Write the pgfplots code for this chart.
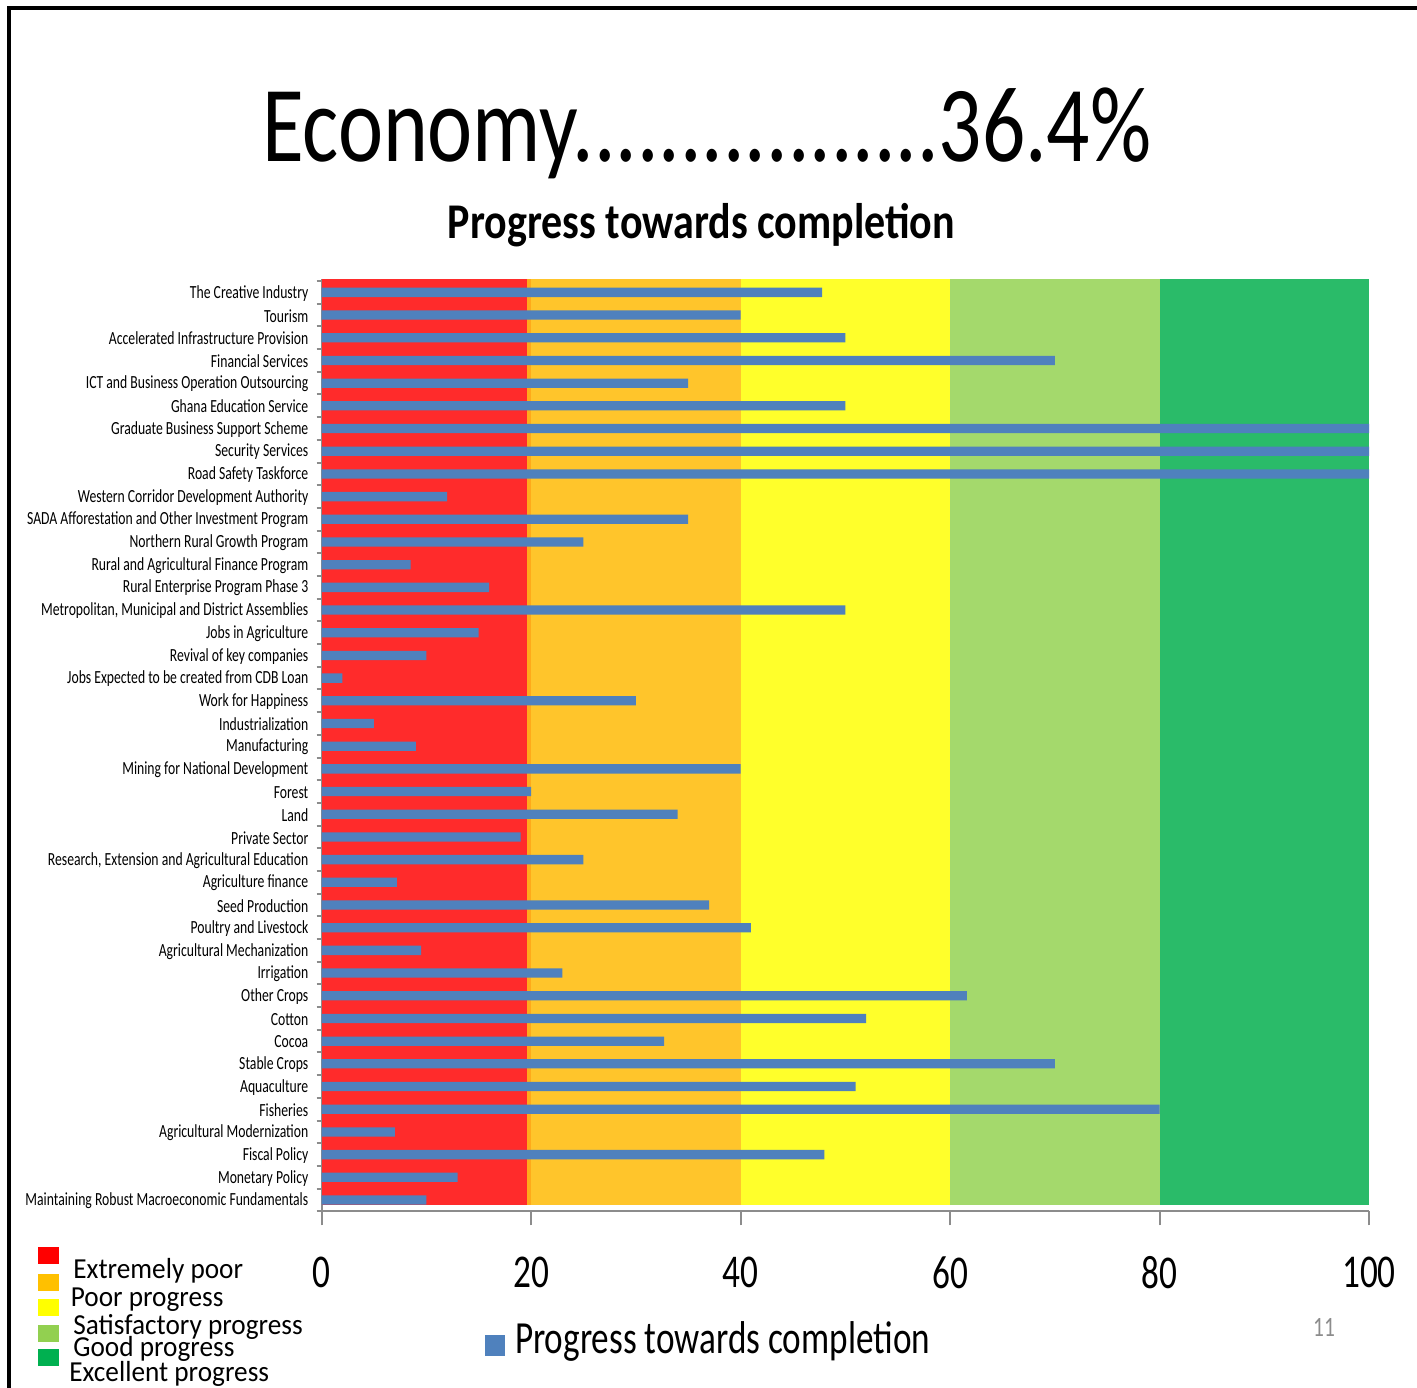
\documentclass[border=0pt]{standalone}
\usepackage{pgfplots}
\pgfplotsset{compat=1.18}
\usepackage{fontspec}
\usepackage{graphicx}
\setmainfont{Carlito}
\newfontfamily\ylab[FakeStretch=0.74]{Carlito}
\newfontfamily\tickf[FakeStretch=0.75]{Carlito}
\newfontfamily\legA[FakeStretch=0.94]{Carlito}
\newfontfamily\legB[FakeStretch=0.765]{Carlito}
\definecolor{barblue}{HTML}{4F81BD}
\definecolor{bred}{HTML}{FF2B2B}
\definecolor{bsliver}{HTML}{FFAA1A}
\definecolor{borange}{HTML}{FFC52B}
\definecolor{byellow}{HTML}{FFFF2B}
\definecolor{blgreen}{HTML}{A4D96C}
\definecolor{bgreen}{HTML}{2ABB69}
\definecolor{lred}{HTML}{FF0000}
\definecolor{lorange}{HTML}{FFC000}
\definecolor{lyellow}{HTML}{FFFF00}
\definecolor{llgreen}{HTML}{92D050}
\definecolor{lgreen}{HTML}{00B050}
\definecolor{axisgray}{HTML}{8C8C8C}
\begin{document}
\begin{tikzpicture}
\path[use as bounding box] (0pt,0pt) rectangle (708.5pt,-693.5pt);
\begin{axis}[
  at={(160.75pt,-605.65pt)}, anchor=south west,
  scale only axis, width=523.75pt, height=466.15pt,
  xmin=0, xmax=100, ymin=-0.5, ymax=40.59,
  axis lines*=left,
  axis line style={draw=axisgray, line width=1pt},
  tick align=outside,
  xtick={0,20,40,60,80,100},
  ytick={0,...,40},
  minor ytick={-0.5,0.5,...,40.5},
  major tick length=7pt,
  minor tick length=2.5pt,
  xtick style={draw=axisgray, line width=1pt},
  ytick style={draw=none},
  minor y tick style={draw=axisgray, line width=1pt},
  /pgf/number format/assume math mode=true,
  xticklabel style={font=\tickf\fontsize{23.5}{24}\selectfont, inner sep=0pt, anchor=north, yshift=-15.4pt},
  yticklabel style={font=\ylab\fontsize{9.25}{10}\selectfont, inner sep=0pt, anchor=east, xshift=0.6pt, yshift=-0.4pt},
  yticklabels={Maintaining Robust Macroeconomic Fundamentals, Monetary Policy, Fiscal Policy, Agricultural Modernization, Fisheries, Aquaculture, Stable Crops, Cocoa, Cotton, Other Crops, Irrigation, Agricultural Mechanization, Poultry and Livestock, Seed Production, Agriculture finance, {Research, Extension and Agricultural Education}, Private Sector, Land, Forest, Mining for National Development, Manufacturing, Industrialization, Work for Happiness, Jobs Expected to be created from CDB Loan, Revival of key companies, Jobs in Agriculture, {Metropolitan, Municipal and District Assemblies}, Rural Enterprise Program Phase 3, Rural and Agricultural Finance Program, Northern Rural Growth Program, SADA Afforestation and Other Investment Program, Western Corridor Development Authority, Road Safety Taskforce, Security Services, Graduate Business Support Scheme, Ghana Education Service, ICT and Business Operation Outsourcing, Financial Services, Accelerated Infrastructure Provision, Tourism, The Creative Industry},
  legend style={at={(0.1561,-0.137)}, anchor=west, draw=none, fill=none, inner sep=0pt, outer sep=0pt, font=\legB\fontsize{23}{24}\selectfont, column sep=0pt, nodes={inner sep=0pt}},
  legend image code/.code={\fill[#1] (0pt,-8.5pt) rectangle (10pt,1.8pt); \path (15pt,0pt);},
  clip=false,
]
\addplot[fill=bred, draw=none, forget plot] coordinates {(0,-0.24) (19.6,-0.24) (19.6,40.59) (0,40.59)} -- cycle;
\addplot[fill=bsliver, draw=none, forget plot] coordinates {(19.6,-0.24) (20,-0.24) (20,40.59) (19.6,40.59)} -- cycle;
\addplot[fill=borange, draw=none, forget plot] coordinates {(20,-0.24) (40,-0.24) (40,40.59) (20,40.59)} -- cycle;
\addplot[fill=byellow, draw=none, forget plot] coordinates {(40,-0.24) (60,-0.24) (60,40.59) (40,40.59)} -- cycle;
\addplot[fill=blgreen, draw=none, forget plot] coordinates {(60,-0.24) (80,-0.24) (80,40.59) (60,40.59)} -- cycle;
\addplot[fill=bgreen, draw=none, forget plot] coordinates {(80,-0.24) (100,-0.24) (100,40.59) (80,40.59)} -- cycle;
\addplot[xbar, bar width=4.65pt, bar shift=0pt, fill=barblue, draw=none] coordinates {
(10,0) (13,1) (48,2) (7,3) (80,4) (51,5) (70,6) (32.7,7) (52,8) (61.6,9)
(23,10) (9.5,11) (41,12) (37,13) (7.2,14) (25,15) (19,16) (34,17) (20,18) (40,19)
(9,20) (5,21) (30,22) (2,23) (10,24) (15,25) (50,26) (16,27) (8.5,28) (25,29)
(35,30) (12,31) (100,32) (100,33) (100,34) (50,35) (35,36) (70,37) (50,38) (40,39)
(47.8,40)};
\addlegendentry{Progress towards completion}
\end{axis}
\begin{scope}[x=0.5pt,y=-0.5pt]
\draw[line width=2pt] (9,1400) -- (9,8) -- (1430,8);
\node[anchor=base, inner sep=0pt] at (707,161.7) {\resizebox{445pt}{\height}{\fontsize{54}{54}\selectfont Economy.................36.4\%}};
\node[anchor=base, inner sep=0pt] at (701.5,238) {\resizebox{253.5pt}{\height}{\bfseries\fontsize{25}{25}\selectfont Progress towards completion}};
\fill[lred] (38,1247) rectangle (59,1264);
\fill[lorange] (38,1274) rectangle (59,1291);
\fill[lyellow] (38,1299) rectangle (59,1316);
\fill[llgreen] (38,1325) rectangle (59,1342);
\fill[lgreen] (38,1349) rectangle (59,1366);
\begin{scope}[every node/.style={anchor=base west, inner sep=0pt, font=\legA\fontsize{14.5}{15}\selectfont}]
\node at (73,1278.3) {Extremely poor};
\node at (70.5,1306.7) {Poor progress};
\node at (73,1334.3) {Satisfactory progress};
\node at (73,1356.7) {Good progress};
\node at (69,1381.7) {Excellent progress};
\end{scope}
\node[anchor=base, inner sep=0pt, text=axisgray, font=\legB\fontsize{14}{14}\selectfont] at (1324,1336) {11};
\end{scope}
\end{tikzpicture}
\end{document}
